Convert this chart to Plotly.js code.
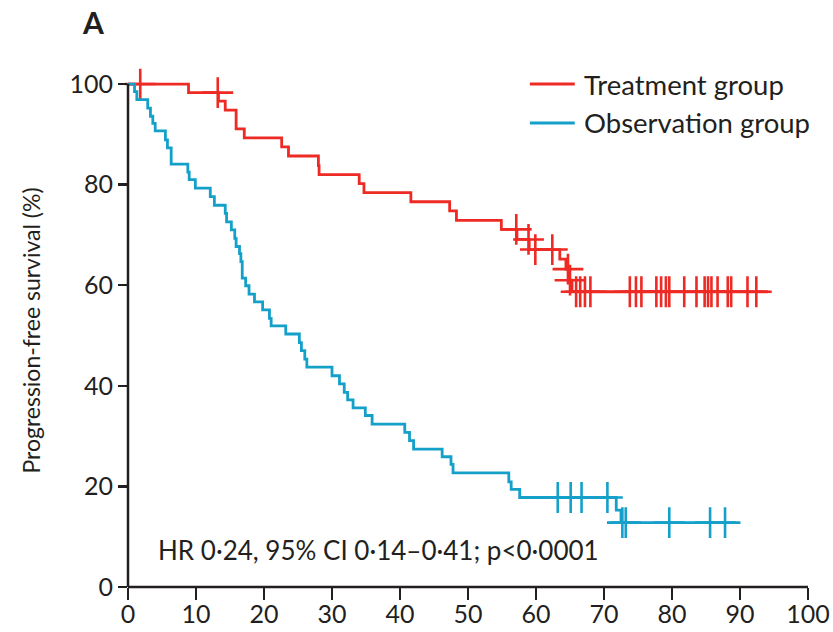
<!DOCTYPE html>
<html>
<head>
<meta charset="utf-8">
<script src="https://cdn.plot.ly/plotly-3.0.1.min.js"></script>
<style>html,body{margin:0;padding:0;background:#fff;}#chart{width:833px;height:632px;}</style>
</head>
<body>
<div id="chart"></div>
<script>
// ---- data ----
const seriesNames = ["Treatment group", "Observation group"];
const seriesColors = ["#ee2a24", "#14a0c8"];

const redTime = [0, 8.9, 13.3, 14.3, 15.9, 17.1, 22.6, 23.6, 28.0, 28.1, 34.0, 34.7, 41.6, 47.3, 48.3, 54.9, 57.2, 59.0, 63.5, 64.4, 64.9, 65.3, 94.1];
const redSurv = [100, 98.3, 96.6, 94.8, 91.1, 89.3, 87.5, 85.7, 83.8, 82.0, 80.2, 78.4, 76.6, 74.8, 72.9, 71.1, 69.1, 67.1, 65.2, 63.2, 61.0, 58.7, 58.7];
const redCensor = [1.8, 13.2, 57.1, 58.9, 59.9, 62.4, 64.7, 65.0, 65.9, 66.5, 67.2, 68.0, 73.8, 74.7, 75.5, 77.7, 78.4, 79.1, 79.6, 81.8, 83.6, 84.8, 85.3, 85.8, 86.7, 88.2, 88.7, 91.1, 92.4];

const blueTime = [0, 0.96, 1.3, 2.9, 3.3, 3.65, 4.0, 5.5, 5.8, 6.35, 8.8, 9.0, 9.9, 12.1, 12.7, 14.3, 14.5, 15.2, 15.7, 15.9, 16.4, 16.6, 16.8, 17.3, 17.8, 18.6, 19.8, 20.8, 21.05, 23.2, 25.2, 25.5, 26.0, 26.3, 30.0, 31.1, 31.8, 32.3, 33.1, 34.9, 35.9, 40.7, 41.4, 42.0, 46.2, 47.5, 47.8, 56.0, 56.35, 57.6, 71.8, 72.5, 89.4];
const blueSurv = [100, 98.5, 96.9, 95.2, 93.6, 92.2, 90.7, 88.9, 87.3, 84.1, 82.5, 81.0, 79.3, 77.6, 75.9, 74.3, 72.6, 71.0, 69.3, 67.7, 66.3, 64.7, 61.4, 59.9, 58.25, 56.7, 55.1, 53.4, 51.9, 50.3, 48.6, 47.0, 45.3, 43.7, 42.0, 40.4, 38.7, 37.2, 35.6, 34.1, 32.4, 30.75, 29.1, 27.4, 25.9, 24.4, 22.7, 20.9, 19.4, 17.8, 15.3, 12.8, 12.8];
const blueCensor = [63.2, 65.1, 66.7, 70.5, 72.7, 73.2, 79.6, 85.6, 87.8];

const xTicks = [0, 10, 20, 30, 40, 50, 60, 70, 80, 90, 100];
const yTicks = [0, 20, 40, 60, 80, 100];
const panelLabel = "A";
const yTitle = "Progression-free survival (%)";
const statText = "HR 0·24, 95% CI 0·14–0·41; p<0·0001";

// ---- helpers ----
function stepAt(times, surv, t) {
  let v = surv[0];
  for (let i = 0; i < times.length; i++) { if (times[i] <= t) v = surv[i]; }
  return v;
}

const FONT = "Lato, 'Open Sans', sans-serif";
const INK = "#231f20";
const yMax = 102;

const groups = [
  {t: redTime, s: redSurv, c: redCensor},
  {t: blueTime, s: blueSurv, c: blueCensor}
];

const traces = [];
groups.forEach((g, i) => {
  traces.push({
    x: g.t, y: g.s, type: "scatter", mode: "lines",
    line: {shape: "hv", color: seriesColors[i], width: 2.8},
    name: seriesNames[i], showlegend: false, hoverinfo: "skip"
  });
  traces.push({
    x: g.c, y: g.c.map(t => stepAt(g.t, g.s, t)), type: "scatter", mode: "markers",
    marker: {symbol: "cross-thin", size: 22, line: {color: seriesColors[i], width: 2.6}, color: seriesColors[i]},
    cliponaxis: false, showlegend: false, hoverinfo: "skip"
  });
});

// custom legend (line samples + labels)
const legendY = [0.9805, 0.9045];
const shapes = [
  {type: "line", xref: "paper", yref: "paper", x0: 0, x1: 1, y0: 0, y1: 0, line: {color: INK, width: 2.5}},
  {type: "line", xref: "paper", yref: "paper", x0: 0, x1: 0, y0: 0, y1: 100 / yMax, line: {color: INK, width: 2.5}}
];
const annotations = [
  {xref: "paper", yref: "paper", x: 0.369, y: 0.072, text: statText, showarrow: false,
   xanchor: "center", yanchor: "middle", font: {family: FONT, size: 26, color: INK}}
];
seriesNames.forEach((n, i) => {
  shapes.push({type: "line", xref: "paper", yref: "paper", x0: 0.591, x1: 0.657, y0: legendY[i], y1: legendY[i],
    line: {color: seriesColors[i], width: 2.8}});
  annotations.push({xref: "paper", yref: "paper", x: 0.668, y: legendY[i], text: n, showarrow: false,
    xanchor: "left", yanchor: "middle", font: {family: FONT, size: 27.5, color: INK}});
});

const layout = {
  width: 833, height: 632,
  margin: {l: 128, r: 25, t: 74, b: 45, pad: 0},
  paper_bgcolor: "#fff", plot_bgcolor: "#fff",
  showlegend: false,
  title: {text: "<b>" + panelLabel + "</b>", x: 83 / 833, xref: "container", xanchor: "left",
          y: 1 - 23 / 632, yref: "container", yanchor: "middle",
          font: {family: FONT, size: 30, color: INK}},
  xaxis: {range: [0, 100], tickvals: xTicks, ticktext: xTicks.map(String), showline: false, zeroline: false, showgrid: false,
          ticks: "outside", ticklen: 12, tickwidth: 2.5, tickcolor: INK, ticklabelstandoff: -7,
          tickfont: {family: FONT, size: 25, color: INK}, fixedrange: true},
  yaxis: {range: [0, yMax], tickvals: yTicks, ticktext: yTicks.map(String), showline: false, zeroline: false, showgrid: false,
          ticks: "outside", ticklen: 9, tickwidth: 2.5, tickcolor: INK,
          tickfont: {family: FONT, size: 25, color: INK},
          title: {text: yTitle, font: {family: FONT, size: 23, color: INK}, standoff: 22}, fixedrange: true},
  shapes: shapes,
  annotations: annotations
};

Plotly.newPlot("chart", traces, layout, {displayModeBar: false, staticPlot: true});
</script>
</body>
</html>
